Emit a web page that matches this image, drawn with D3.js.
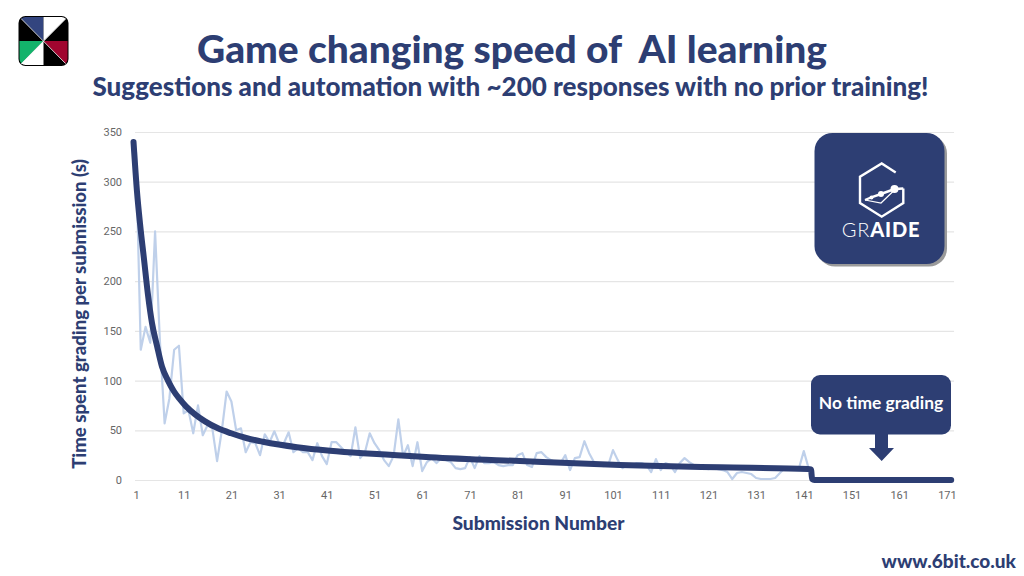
<!DOCTYPE html>
<html><head><meta charset="utf-8">
<script src="https://cdn.jsdelivr.net/npm/d3@7"></script>
<style>html,body{margin:0;padding:0;background:#fff}svg{display:block}text{font-family:Lato,sans-serif}</style>
</head><body><svg id="c" width="1024" height="576"></svg>
<script>
const titleText = "Game changing speed of  AI learning";
const subtitleText = "Suggestions and automation with ~200 responses with no prior training!";
const xAxisTitle = "Submission Number";
const yAxisTitle = "Time spent grading per submission (s)";
const xTickValues = [1,11,21,31,41,51,61,71,81,91,101,111,121,131,141,151,161,171];
const yTickValues = [0,50,100,150,200,250,300,350];
// light series: time per submission, starting at submission 1
const perSubmission = [330,131,154,138,250,141,57,82,131,135,67,70,47,75,45,55,52,19,50,89,79,50,52,28,38,37,25,46,38,49,37,37,48,28,32,28,28,20,37,24,16,38,38,33,28,24,53,22,28,47,37,30,20,14,24,61,24,35,14,38,9,18,22,17,22,20,18,12,11,12,23,12,24,17,17,18,15,14,15,15,25,27,15,13,27,28,23,20,18,17,25,10,22,23,39,27,18,15,14,15,30,20,12,15,15,17,17,15,8,21,10,17,15,8,17,22,18,15,13,12,11,12,11,10,8,1,7,8,7,6,2,1,1,1,2,7,12,12,13,12,29,12,9];
// heavy trend line: submission position and seconds
const trendSubmission = [0.48,1.21,1.84,2.68,3.52,4.35,5.4,6.45,7.71,8.97,10.22,11.48,13.37,15.47,18.19,20.92,24.27,27.62,34.75,41.67,48.59,55.72,62.64,81.5,102.47,123.43,141.88,142.5,142.75,143.2,171.9];
const trendSeconds = [340,290,258,222,186,158,135,114,100,89,81,74,66,59,52,47,42,38.5,33,29.5,27,25,23,19,15,12.7,11,10.7,1,0,0];
const brand = "#2d3e73", lightLine = "#bfd0ea", gridColor = "#e5e5e5", tickColor = "#666";

const svg = d3.select("#c");
const x = d3.scaleLinear().domain([1,171]).range([136,946.9]);
const y = d3.scaleLinear().domain([0,350]).range([480,132]);

svg.append("text").attr("x",512).attr("y",63).attr("text-anchor","middle").attr("font-size",38.9).attr("font-weight",900).attr("fill",brand).attr("xml:space","preserve").text(titleText);
svg.append("text").attr("x",510.5).attr("y",96).attr("text-anchor","middle").attr("font-size",26).attr("font-weight",900).attr("fill",brand).text(subtitleText);

// axes
const gy = svg.append("g").attr("transform",`translate(${x(1)-1},0)`)
  .call(d3.axisLeft(y).tickValues(yTickValues).tickSize(0).tickPadding(13));
gy.select(".domain").remove();
gy.selectAll("text").attr("fill",tickColor).style("font-family","Roboto,sans-serif").attr("font-size",11);
gy.selectAll(".tick").append("line").attr("x1",0).attr("x2",x(172.5)-x(1)+1).attr("stroke",gridColor).attr("stroke-width",1.2);
const gx = svg.append("g").attr("transform","translate(0,480)")
  .call(d3.axisBottom(x).tickValues(xTickValues).tickFormat(d3.format("d")).tickSize(0).tickPadding(11));
gx.select(".domain").remove();
gx.selectAll("text").attr("fill",tickColor).style("font-family","Roboto,sans-serif").attr("font-size",11);

svg.append("text").attr("x",538.5).attr("y",530).attr("text-anchor","middle").attr("font-size",19.2).attr("font-weight",900).attr("fill",brand).text(xAxisTitle);
svg.append("text").attr("transform","translate(86,314) rotate(-90)").attr("text-anchor","middle").attr("font-size",18.6).attr("font-weight",900).attr("fill",brand).text(yAxisTitle);

// series
svg.append("path").datum(perSubmission).attr("fill","none").attr("stroke",lightLine).attr("stroke-width",2.2).attr("stroke-linejoin","round")
  .attr("d",d3.line().x((d,i)=>x(i+1)).y(d=>y(d)));
svg.append("path").datum(trendSeconds).attr("fill","none").attr("stroke",brand).attr("stroke-width",6).attr("stroke-linecap","round").attr("stroke-linejoin","round")
  .attr("d",d3.line().x((d,i)=>x(trendSubmission[i])).y(d=>y(d)).curve(d3.curveMonotoneX));

// callout
svg.append("rect").attr("x",811).attr("y",375).attr("width",140).attr("height",59.5).attr("rx",9).attr("fill",brand);
svg.append("path").attr("fill",brand).attr("d","M875 434V448H869L881.7 461L894 448H888V434Z");
svg.append("text").attr("x",881).attr("y",409).attr("text-anchor","middle").attr("font-size",17.4).attr("font-weight",700).attr("fill","#fff").text("No time grading");

// GRAIDE badge
svg.append("rect").attr("x",817).attr("y",135.5).attr("width",130).attr("height",131).attr("rx",18).attr("fill","#9a9a9a");
svg.append("rect").attr("x",814.5).attr("y",133).attr("width",130).attr("height",131).attr("rx",18).attr("fill",brand);
const ic = svg.append("g").attr("fill","none").attr("stroke","#fff").attr("stroke-width",2.4);
ic.append("path").attr("d","M895.7 172.5L881.7 163.5L860 176.7V203L881.7 216.7L903.3 203V188.5");
ic.append("path").attr("d","M865 200L872 197L881 194L894.5 189L903.3 188.5");
ic.append("path").attr("stroke-width",1.2).attr("d","M865 200L881 203L894.5 190");
svg.append("g").attr("fill","#fff").selectAll("circle").data([[871.5,197.5,2],[881,194,3],[894.5,189,4]]).join("circle").attr("cx",d=>d[0]).attr("cy",d=>d[1]).attr("r",d=>d[2]);
const gt = svg.append("text").attr("x",881).attr("y",237).attr("text-anchor","middle").attr("font-size",20).attr("fill","#fff").attr("letter-spacing",0.8);
gt.append("tspan").attr("font-weight",300).text("GR");
gt.append("tspan").attr("font-weight",900).text("AIDE");

// 6bit logo
const lg = svg.append("g");
lg.append("rect").attr("x",18.5).attr("y",16).attr("width",50).attr("height",50).attr("rx",7).attr("fill","#000");
lg.append("clipPath").attr("id","lc").append("rect").attr("x",19.5).attr("y",17).attr("width",48).attr("height",48).attr("rx",6);
const lgi = lg.append("g").attr("clip-path","url(#lc)");
[["M43.5 41L19 16.5H43.5Z","#33457f"],["M43.5 41V16.5H68Z","#fff"],["M43.5 41H68V66Z","#a0052f"],["M43.5 41H19V66Z","#13b36b"],["M43.5 41V66H19Z","#fff"]]
  .forEach(d=>lgi.append("path").attr("d",d[0]).attr("fill",d[1]));
lgi.append("path").attr("d","M19 16.5L68 66M19 66L68 16.5").attr("stroke","#fff").attr("stroke-width",0.8);

svg.append("text").attr("x",1016).attr("y",568).attr("text-anchor","end").attr("font-size",19).attr("font-weight",900).attr("fill",brand).text("www.6bit.co.uk");
</script></body></html>
